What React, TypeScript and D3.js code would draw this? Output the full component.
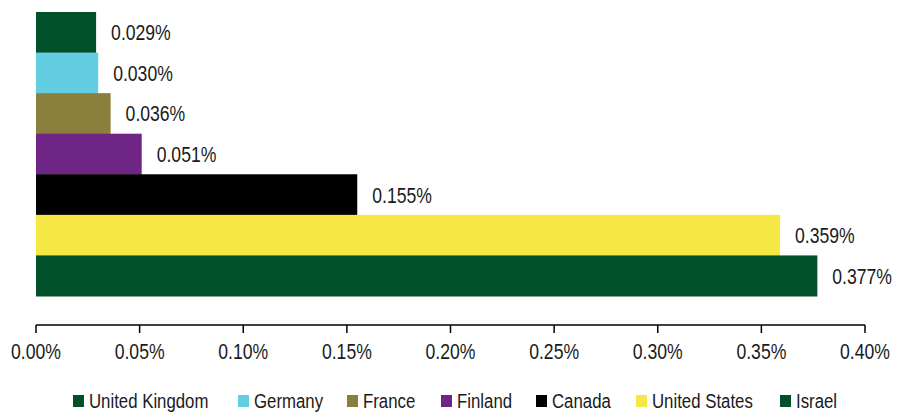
import React from "react";
import * as d3 from "d3";

const countries = ["United Kingdom", "Germany", "France", "Finland", "Canada", "United States", "Israel"];
const values = [0.029, 0.030, 0.036, 0.051, 0.155, 0.359, 0.377];
const colors = ["#00502A", "#63CEE2", "#8B7F3C", "#6E2585", "#000000", "#F5E845", "#00502A"];
const ticks = [0, 0.05, 0.1, 0.15, 0.2, 0.25, 0.3, 0.35, 0.4];
const legendX = [73, 238, 347, 441, 536, 636, 780];

const W = 912;
const H = 412;
const FONT = "'Liberation Sans', Arial, sans-serif";
const SX = 0.8;

function T({ x, y, anchor = "start", size = 22, children }: any) {
  return (
    <text
      transform={`translate(${x},${y}) scale(${SX},1)`}
      textAnchor={anchor}
      fontFamily={FONT}
      fontSize={size}
      fill="#1a1a1a"
    >
      {children}
    </text>
  );
}

export default function App() {
  const x = d3.scaleLinear().domain([0, 0.4]).range([36, 865]);
  const y = d3.scaleBand<string>().domain(countries).range([12, 296]).padding(0);
  const axisY = 325;
  return (
    <svg
      width={W}
      height={H}
      style={{ position: "fixed", left: 0, top: 0, background: "#fff" }}
    >
      {countries.map((c, i) => (
        <g key={c}>
          <rect
            x={x(0)}
            y={y(c)!}
            width={x(values[i]) - x(0)}
            height={y.bandwidth() + 0.5}
            fill={colors[i]}
          />
          <T x={x(values[i]) + 15} y={y(c)! + y.bandwidth() / 2 + 8}>
            {values[i].toFixed(3) + "%"}
          </T>
        </g>
      ))}
      <line x1={x(0)} x2={x(0.4)} y1={axisY} y2={axisY} stroke="#000" strokeWidth={1.5} />
      {ticks.map((t) => (
        <g key={t}>
          <line x1={x(t)} x2={x(t)} y1={axisY} y2={axisY + 8} stroke="#000" strokeWidth={1.5} />
          <T x={x(t)} y={359} anchor="middle">
            {t.toFixed(2) + "%"}
          </T>
        </g>
      ))}
      {countries.map((c, i) => (
        <g key={"lg" + i}>
          <rect x={legendX[i]} y={395} width={11} height={12} fill={colors[i]} />
          <T x={legendX[i] + 16} y={408} size={21}>
            {c}
          </T>
        </g>
      ))}
    </svg>
  );
}
